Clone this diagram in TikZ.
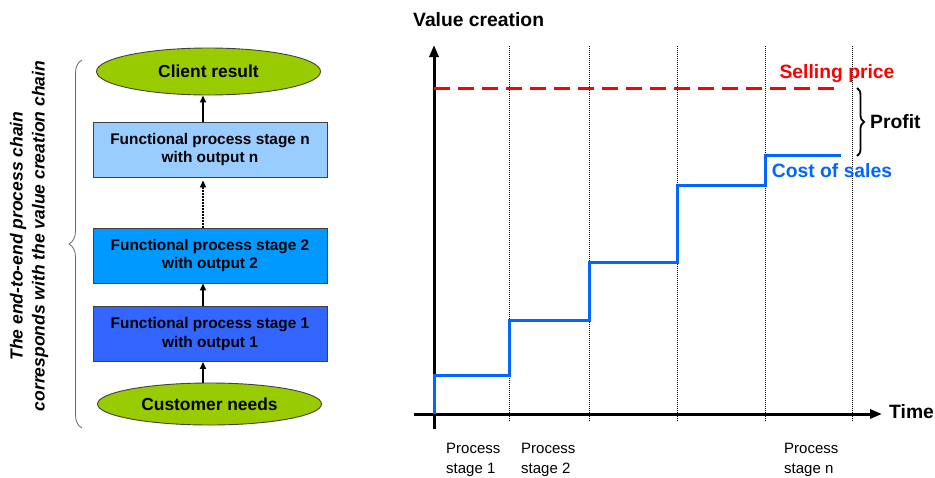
\documentclass[tikz,border=0pt]{standalone}
\usepackage{fontspec}
\setmainfont{Liberation Sans}
\usetikzlibrary{shapes.geometric,arrows.meta,decorations.pathreplacing}
\definecolor{leaf}{HTML}{99CC00}
\definecolor{boxn}{HTML}{99CCFF}
\definecolor{boxtwo}{HTML}{0099FF}
\definecolor{boxone}{HTML}{3366FF}
\definecolor{costblue}{HTML}{0066FF}
\definecolor{sellred}{HTML}{FF0000}
\begin{document}
\begin{tikzpicture}[x=1pt,y=-1pt,
  every node/.style={inner sep=0pt},
  stagebox/.style={draw=black!75, line width=0.9pt, minimum width=234, minimum height=55,
    align=center, font=\fontsize{15.4}{18.5}\selectfont\bfseries},
  leafell/.style={ellipse, draw=black!75, line width=0.9pt, fill=leaf, minimum width=224,
    font=\fontsize{17.4}{20}\selectfont\bfseries},
  flow/.style={-{Triangle[length=7pt,width=6pt]}, line width=1.6pt},
  dottedflow/.style={flow, dash pattern=on 1.5pt off 1.5pt},
  axis/.style={line width=3pt, -{Triangle[length=12pt,width=9pt]}},
  grid/.style={line width=0.7pt, dash pattern=on 1pt off 1pt},
  bigbold/.style={font=\fontsize{19.3}{22}\selectfont\bfseries},
  stagelabel/.style={anchor=west, align=left, font=\fontsize{15}{19.5}\selectfont},
]
\useasboundingbox (0,0) rectangle (935,477);

% ---------- left: process chain ----------
\node[leafell, minimum height=47] (client) at (208.5,71.5) {Client result};
\node[stagebox, fill=boxn] (sn) at (210,149.5) {Functional process stage n\\with output n};
\node[stagebox, fill=boxtwo] (s2) at (210,255.5) {Functional process stage 2\\with output 2};
\node[stagebox, fill=boxone] (s1) at (210,334) {Functional process stage 1\\with output 1};
\node[leafell, minimum height=42] (cust) at (209.5,404) {Customer needs};

\coordinate (ax) at (203,0);
\draw[flow] (cust.north -| ax) -- (s1.south -| ax);
\draw[flow] (s1.north -| ax) -- (s2.south -| ax);
\draw[dottedflow] (s2.north -| ax) -- ([yshift=-3pt]sn.south -| ax);
\draw[flow] (sn.north -| ax) -- (client.south -| ax);

\coordinate (lbb) at (82,428);
\coordinate (lbt) at (82,60);
\draw[black!60, line width=0.8pt, decorate, decoration={brace, amplitude=13pt}] (lbb) -- (lbt);

\node[rotate=90, align=center, font=\fontsize{17.5}{22}\selectfont\bfseries\itshape] (side) at (29,236)
  {The end-to-end process chain\\corresponds with the value creation chain};

% ---------- right: value creation chart ----------
\node[bigbold, anchor=west] (vc) at (413,20) {Value creation};

\coordinate (ybot) at (434,429);
\coordinate (ytop) at (434,45);
\coordinate (xleft) at (414,414);
\coordinate (xright) at (882,414);

\foreach \gx in {509,589,677,765,852}{
  \coordinate (gt\gx) at (\gx,46);
  \coordinate (gb\gx) at (\gx,421);
  \draw[grid] (gt\gx) -- (gb\gx);
}

\draw[axis] (ybot) -- (ytop);
\draw[axis] (xleft) -- (xright);
\node[bigbold, anchor=west] (time) at (889,412) {Time};

\coordinate (sp0) at (434,88);
\coordinate (sp1) at (840,88);
\draw[sellred, line width=3pt, dash pattern=on 16pt off 8pt] (sp0) -- (sp1);
\node[bigbold, text=sellred] (sell) at (837,74) {Selling price};

\coordinate (c0) at (434,414);
\coordinate (c1) at (509,375);
\coordinate (c2) at (589,320);
\coordinate (c3) at (677,262);
\coordinate (c4) at (765,185);
\coordinate (c5) at (841,155);
\draw[costblue, line width=3pt] (c0) |- (c1) |- (c2) |- (c3) |- (c4) |- (c5);
\node[bigbold, text=costblue] (cost) at (832,171) {Cost of sales};

\coordinate (pb0) at (857,88);
\coordinate (pb1) at (857,156);
\draw[line width=1.8pt, decorate, decoration={brace, amplitude=7pt}] (pb0) -- (pb1);
\node[bigbold, anchor=west] (profit) at (870,122) {Profit};

\node[stagelabel] (l1) at (446,460) {Process\\stage 1};
\node[stagelabel] (l2) at (521,460) {Process\\stage 2};
\node[stagelabel] (ln) at (784,460) {Process\\stage n};
\end{tikzpicture}
\end{document}
